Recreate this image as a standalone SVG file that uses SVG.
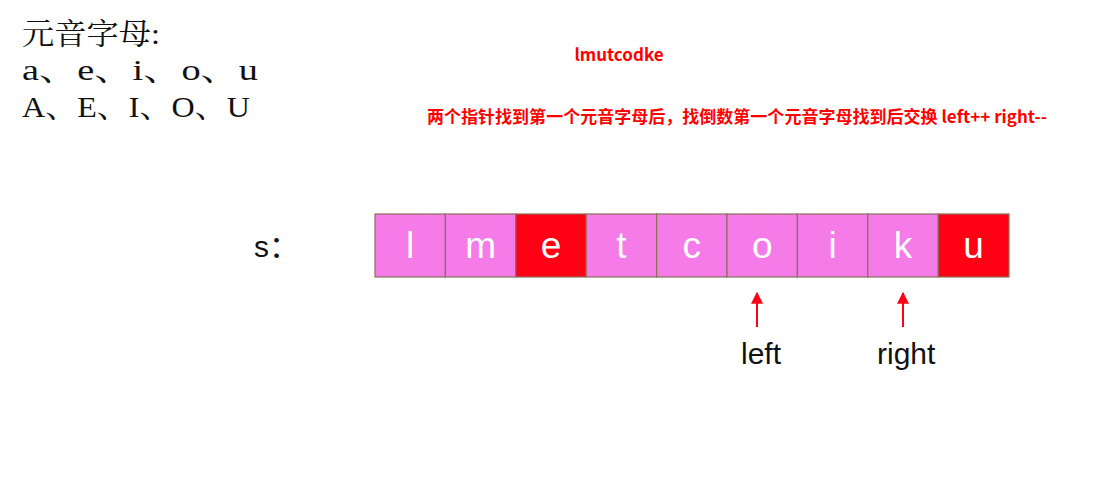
<svg xmlns="http://www.w3.org/2000/svg" width="1095" height="503" viewBox="0 0 1095 503">
<style>
.serif{font-family:"Liberation Serif","Noto Serif CJK SC","Noto Sans CJK SC",serif;font-size:30px;fill:#111}
.red{font-family:"Microsoft YaHei","Noto Sans CJK SC",sans-serif;font-weight:bold;font-size:17px;fill:#ff0000}
.cell{stroke:#8b6e5a;stroke-width:1.2}
.pink{fill:#f47be8}
.hot{fill:#ff0015}
.ch{font-family:"Liberation Sans",Arial,sans-serif;font-size:37px;fill:#fff;text-anchor:middle}
.lab{font-family:"Liberation Sans",Arial,"Noto Sans CJK SC",sans-serif;font-size:30px;fill:#111}
.arr{stroke:#ff0015;stroke-width:2;fill:none}
</style>
<defs>
<marker id="ah" viewBox="0 0 10 10" refX="9" refY="5" markerWidth="6" markerHeight="6" orient="auto" markerUnits="strokeWidth">
<path d="M0,0 L10,5 L0,10 z" fill="#ff0015"/>
</marker>
</defs>
<rect width="1095" height="503" fill="#fff"/>
<g id="vowels">
<text class="serif" x="22" y="44" textLength="138" lengthAdjust="spacingAndGlyphs">元音字母:</text>
<text class="serif" x="22" y="80" textLength="236" lengthAdjust="spacingAndGlyphs">a、e、i、o、u</text>
<text class="serif" x="22" y="117" textLength="228" lengthAdjust="spacingAndGlyphs">A、E、I、O、U</text>
</g>
<g id="notes">
<text class="red" x="619" y="61" text-anchor="middle">lmutcodke</text>
<text class="red" x="427" y="123" textLength="620">两个指针找到第一个元音字母后，找倒数第一个元音字母找到后交换 left++ right--</text>
</g>
<g id="label-s"><text class="lab" x="254" y="257" font-size="27">s：</text></g>
<g id="array">
<rect class="cell pink" x="375" y="214" width="70.4" height="63"/>
<rect class="cell pink" x="445.4" y="214" width="70.4" height="63"/>
<rect class="cell hot" x="515.8" y="214" width="70.4" height="63"/>
<rect class="cell pink" x="586.2" y="214" width="70.4" height="63"/>
<rect class="cell pink" x="656.6" y="214" width="70.4" height="63"/>
<rect class="cell pink" x="727" y="214" width="70.4" height="63"/>
<rect class="cell pink" x="797.4" y="214" width="70.4" height="63"/>
<rect class="cell pink" x="867.8" y="214" width="70.4" height="63"/>
<rect class="cell hot" x="938.2" y="214" width="70.8" height="63"/>
<text class="ch" x="410" y="258">l</text>
<text class="ch" x="480.6" y="258">m</text>
<text class="ch" x="551" y="258">e</text>
<text class="ch" x="621.4" y="258">t</text>
<text class="ch" x="691.8" y="258">c</text>
<text class="ch" x="762.2" y="258">o</text>
<text class="ch" x="832.6" y="258">i</text>
<text class="ch" x="903" y="258">k</text>
<text class="ch" x="973.6" y="258">u</text>
</g>
<g id="connectors">
<line class="arr" x1="757" y1="327" x2="757" y2="293" marker-end="url(#ah)"/>
<line class="arr" x1="903" y1="327" x2="903" y2="293" marker-end="url(#ah)"/>
</g>
<g id="pointer-left"><text class="lab" x="741" y="364">left</text></g>
<g id="pointer-right"><text class="lab" x="877" y="364">right</text></g>
</svg>
